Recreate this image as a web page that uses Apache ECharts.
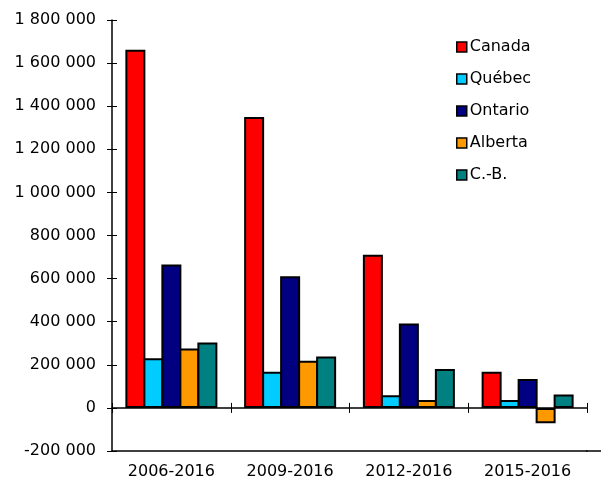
<!DOCTYPE html>
<html>
<head>
<meta charset="utf-8">
<script src="https://cdn.jsdelivr.net/npm/echarts@6/dist/echarts.min.js"></script>
<style>
  html, body { margin: 0; padding: 0; background: #fff; }
  #chart { width: 601px; height: 481px; }
</style>
</head>
<body>
<div id="chart"></div>
<script>
var periods = ['2006-2016', '2009-2016', '2012-2016', '2015-2016'];
var canada  = [1662000, 1350000, 711000, 168000];
var quebec  = [230000, 168000, 59000, 37000];
var ontario = [666000, 611000, 392000, 134000];
var alberta = [276000, 219000, 37000, -71000];
var cb      = [304000, 239000, 180000, 62000];
var names   = ['Canada', 'Québec', 'Ontario', 'Alberta', 'C.-B.'];
var colors  = ['#ff0000', '#00ccff', '#000080', '#ff9900', '#008080'];

var font = 'DejaVu Sans';

function spaced(v) {
  return String(v).replace(/\B(?=(\d{3})+(?!\d))/g, ' ');
}

var chart = echarts.init(document.getElementById('chart'));

// border is drawn inside the bar, so overlap neighbours by one border width
var seriesData = [canada, quebec, ontario, alberta, cb];
var series = seriesData.map(function (d, i) {
  return {
    name: names[i],
    type: 'bar',
    xAxisIndex: 1,
    yAxisIndex: 0,
    data: d,
    barWidth: 20,
    barGap: '-10%',
    itemStyle: { color: colors[i], borderColor: '#000', borderWidth: 2 }
  };
});

chart.setOption({
  animation: false,
  backgroundColor: '#fff',
  grid: { left: 112, right: 14, top: 20, bottom: 30 },
  legend: {
    orient: 'vertical',
    left: 451,
    top: 34,
    icon: 'rect',
    itemWidth: 10,
    itemHeight: 10,
    itemGap: 16,
    itemStyle: { borderColor: '#000', borderWidth: 1.5 },
    textStyle: { fontFamily: font, fontSize: 16, color: '#000', padding: [0, 0, 0, -2] },
    data: names
  },
  xAxis: [
    {
      type: 'category',
      data: periods,
      position: 'bottom',
      axisLine: { onZero: false, lineStyle: { color: '#000', width: 1.5 } },
      axisTick: { show: false },
      axisLabel: { fontFamily: font, fontSize: 16, color: '#000', margin: 13 }
    },
    {
      type: 'category',
      data: periods,
      position: 'bottom',
      axisLine: { onZero: true, onZeroAxisIndex: 0, lineStyle: { color: '#000', width: 1.5 } },
      axisTick: { show: true, interval: 0, length: 5, lineStyle: { color: '#000' } },
      axisLabel: { show: false }
    },
    {
      type: 'category',
      data: periods,
      position: 'bottom',
      axisLine: { show: false, onZero: true, onZeroAxisIndex: 0 },
      axisTick: { show: true, inside: true, interval: 0, length: 5, lineStyle: { color: '#000' } },
      axisLabel: { show: false }
    }
  ],
  yAxis: [
    {
      type: 'value',
      position: 'left',
      min: -200000,
      max: 1800000,
      interval: 200000,
      axisLine: { show: true, lineStyle: { color: '#000', width: 1.5 } },
      axisTick: { show: true, length: 5, lineStyle: { color: '#000' } },
      splitLine: { show: false },
      axisLabel: {
        fontFamily: font, fontSize: 16, color: '#000', margin: 16,
        formatter: function (v) { return spaced(v); }
      }
    },
    {
      // second copy of the scale, only to draw the tick halves inside the plot
      type: 'value',
      position: 'right',
      offset: -475,
      min: -200000,
      max: 1800000,
      interval: 200000,
      axisLine: { show: false },
      axisTick: { show: true, length: 5, lineStyle: { color: '#000' } },
      splitLine: { show: false },
      axisLabel: { show: false }
    }
  ],
  graphic: [{
    type: 'line',
    shape: { x1: 586, y1: 451, x2: 601, y2: 451 },
    style: { stroke: '#000', lineWidth: 1.5 }
  }],
  series: series
});
</script>
</body>
</html>
